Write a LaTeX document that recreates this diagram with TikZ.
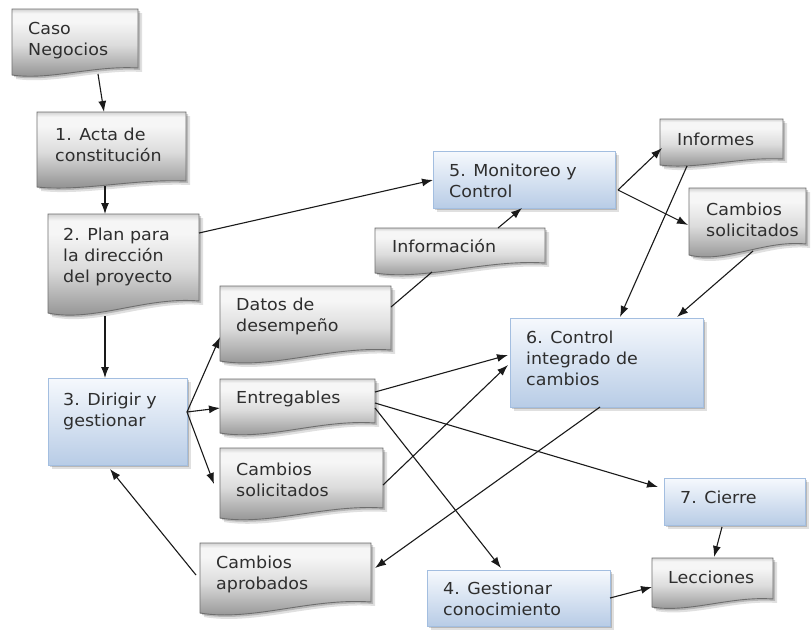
\documentclass[tikz,border=0pt]{standalone}
\usepackage{fontspec}
\setmainfont{DejaVu Sans}[FakeStretch=1.06]
\usetikzlibrary{arrows.meta,calc}

\definecolor{docline}{HTML}{6E6E6E}
\definecolor{dgA}{HTML}{D2D2D2}
\definecolor{dgB}{HTML}{F6F6F6}
\definecolor{dgC}{HTML}{DCDCDC}
\definecolor{dgD}{HTML}{8A8A8A}
\definecolor{bline}{HTML}{A3BEE0}
\definecolor{btop}{HTML}{F6F9FD}
\definecolor{bbot}{HTML}{B8CCE6}
\definecolor{txtcol}{HTML}{2E2E2E}
\definecolor{conncol}{HTML}{1A1A1A}

\pgfdeclareverticalshading{docshade}{100bp}{color(0bp)=(dgD); color(25bp)=(dgD); color(50bp)=(dgC); color(66bp)=(dgB); color(72bp)=(dgB); color(75bp)=(dgA); color(100bp)=(dgA)}

\newcommand\lblfont{\fontsize{16.5}{21}\selectfont}

\tikzset{
  shadowA/.style={fill=black, opacity=0.12},
  shadowB/.style={fill=black, opacity=0.18},
  docstyle/.style={draw=docline, line width=0.9pt, shade, shading=docshade},
  bluestyle/.style={draw=bline, line width=0.9pt, top color=btop, bottom color=bbot},
  anchorbox/.style={inner sep=0pt, outer sep=0pt, anchor=north west},
  lbl/.style={font=\lblfont, align=left, inner sep=0pt, text=txtcol, anchor=base west},
  conn/.style={draw=conncol, line width=1.1pt, -{Latex[length=11pt,width=8pt]}},
  plainconn/.style={draw=conncol, line width=1.1pt},
}

% name, x1, y1, x2, yL, d, tx, ty (baseline of last line), text
\newcommand\docpath[5]{(#1,#2) -- (#3,#2) -- (#3,{#4-#5}) .. controls ({#1+0.65*(#3-#1)},{#4-1.4*#5}) and ({#1+0.3*(#3-#1)},{#4+0.8*#5}) .. (#1,#4) -- cycle}
\newcommand\docbox[9]{%
  \path[shadowA, shift={(4,4)}] \docpath{#2}{#3}{#4}{#5}{#6};
  \path[shadowB, shift={(2,2)}] \docpath{#2}{#3}{#4}{#5}{#6};
  \path[docstyle] \docpath{#2}{#3}{#4}{#5}{#6};
  \node[anchorbox, minimum width={#4-#2}, minimum height={#5-#3}] (#1) at (#2,#3) {};
  \node[lbl] at ($(#1.north west)+(#7,#8)$) {#9};
}
% name, x1, y1, x2, y2, tx, ty (baseline of last line), text
\newcommand\bluebox[8]{%
  \path[shadowA, shift={(4,4)}] (#2,#3) rectangle (#4,#5);
  \path[shadowB, shift={(2,2)}] (#2,#3) rectangle (#4,#5);
  \path[bluestyle] (#2,#3) rectangle (#4,#5);
  \node[anchorbox, minimum width={#4-#2}, minimum height={#5-#3}] (#1) at (#2,#3) {};
  \node[lbl] at ($(#1.north west)+(#6,#7)$) {#8};
}

\begin{document}
\begin{tikzpicture}[x=1pt,y=-1pt]
\useasboundingbox[fill=white] (0,0) rectangle (811,630);

% document shapes
\docbox{caso}{12}{9}{138}{75}{7}{16}{46}{Caso\\Negocios}
\docbox{acta}{37}{112}{186}{187}{6}{18}{49}{1. Acta de\\constitución}
\docbox{plan}{48}{214}{199}{313}{12}{15}{68}{2. Plan para\\la dirección\\del proyecto}
\docbox{datos}{220}{286}{391}{361}{11}{16}{45}{Datos de\\desempeño}
\docbox{entr}{220}{379}{375}{433}{10}{16}{24}{Entregables}
\docbox{cambL}{220}{448}{383}{518}{10}{16}{48}{Cambios\\solicitados}
\docbox{aprob}{200}{543}{371}{613}{11}{16}{46}{Cambios\\aprobados}
\docbox{info}{375}{228}{545}{273}{10}{17}{24}{Información}
\docbox{informes}{660}{119}{783}{165}{6}{17}{26}{Informes}
\docbox{cambR}{689}{188}{806}{255}{11}{17}{48}{Cambios\\solicitados}
\docbox{lecc}{652}{558}{773}{607}{8}{16}{25}{Lecciones}

% process boxes
\bluebox{dirigir}{48}{378}{187}{465}{15}{48}{3. Dirigir y\\gestionar}
\bluebox{monit}{433}{151}{615}{208}{16}{46}{5. Monitoreo y\\Control}
\bluebox{control}{510}{318}{703}{407}{16}{67}{6. Control\\integrado de\\cambios}
\bluebox{cierre}{664}{478}{805}{525}{16}{25}{7. Cierre}
\bluebox{gestion}{427}{570}{610}{626}{16}{45}{4. Gestionar\\conocimiento}

% connectors
\draw[conn] ($(caso.north west)+(86,65)$) -- ($(acta.north west)+(67,0)$);
\draw[conn] ($(acta.north west)+(68,74)$) -- ($(plan.north west)+(57,0)$);
\draw[conn] ($(plan.north west)+(57,102)$) -- ($(dirigir.north west)+(57,0)$);
\draw[conn] ($(plan.north west)+(151,19)$) -- ($(monit.north west)+(0,29)$);
\draw[conn] ($(dirigir.north west)+(139,34)$) -- ($(datos.north west)+(0,51)$);
\draw[conn] ($(dirigir.north west)+(139,34)$) -- ($(entr.north west)+(0,29)$);
\draw[conn] ($(dirigir.north west)+(139,34)$) -- ($(cambL.north west)+(-6,36)$);
\draw[plainconn] ($(datos.north west)+(171,21)$) -- ($(info.north west)+(57,44)$);
\draw[conn] ($(info.north west)+(123,0)$) -- ($(monit.north west)+(89,57)$);
\draw[conn] ($(monit.north west)+(185,39)$) -- ($(informes.north west)+(2,29)$);
\draw[conn] ($(monit.north west)+(185,39)$) -- ($(cambR.north west)+(-1,37)$);
\draw[conn] ($(informes.north west)+(27,47)$) -- ($(control.north west)+(110,-1)$);
\draw[conn] ($(cambR.north west)+(64,63)$) -- ($(control.north west)+(167,-1)$);
\draw[conn] ($(entr.north west)+(155,13)$) -- ($(control.north west)+(-2,37)$);
\draw[conn] ($(cambL.north west)+(163,37)$) -- ($(control.north west)+(-2,47)$);
\draw[conn] ($(entr.north west)+(155,24)$) -- ($(cierre.north west)+(-6,9)$);
\draw[conn] ($(entr.north west)+(155,29)$) -- ($(gestion.north west)+(74,-2)$);
\draw[conn] ($(control.north west)+(90,89)$) -- ($(aprob.north west)+(175,25)$);
\draw[conn] ($(aprob.north west)+(-4,32)$) -- ($(dirigir.north west)+(62,91)$);
\draw[conn] ($(cierre.north west)+(58,49)$) -- ($(lecc.north west)+(62,-1)$);
\draw[conn] ($(gestion.north west)+(183,28)$) -- ($(lecc.north west)+(0,29)$);
\end{tikzpicture}
\end{document}
